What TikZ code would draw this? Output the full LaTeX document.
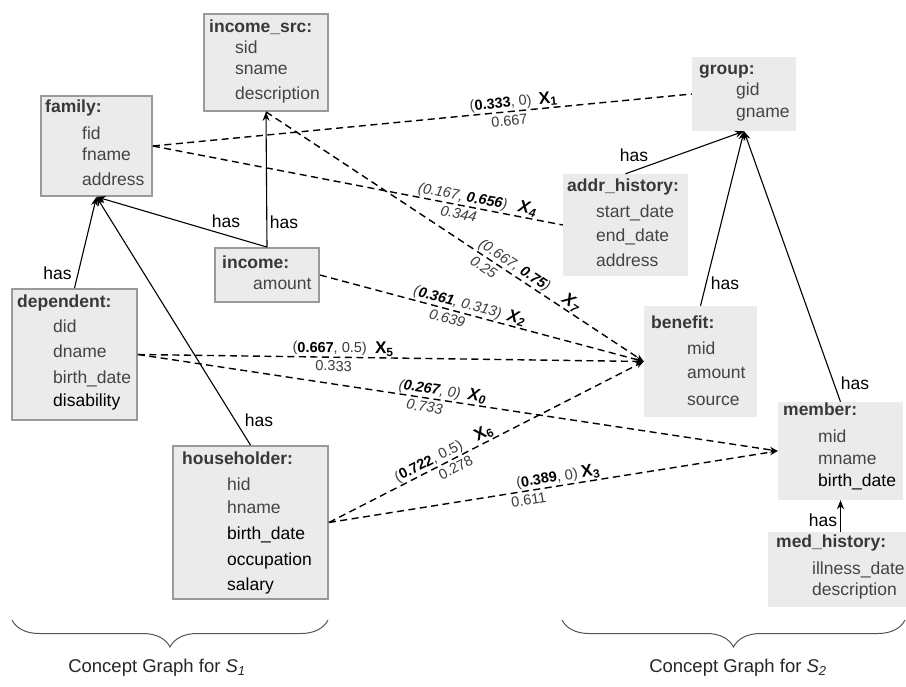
\documentclass[tikz,border=0pt]{standalone}
\usepackage{fontspec}
\setmainfont{Liberation Sans}
\usetikzlibrary{arrows.meta,decorations.pathreplacing,calc}
\definecolor{boxfill}{HTML}{EBEBEB}
\definecolor{boxline}{HTML}{9A9A9A}
\definecolor{fieldtext}{HTML}{444444}
\definecolor{titletext}{HTML}{383838}
\definecolor{labeltext}{HTML}{3A3A3A}
\definecolor{bracecol}{HTML}{555555}
\newcommand{\bn}[1]{{\color{black}\bfseries #1}}
\begin{document}
\begin{tikzpicture}[x=1pt,y=-1pt,
  s1box/.style={draw=boxline, line width=1.8pt, fill=boxfill, inner sep=0pt},
  s2box/.style={fill=boxfill, inner sep=0pt},
  ctitle/.style={anchor=mid west, inner sep=0pt, text=titletext, font=\fontsize{17.5}{20}\selectfont\bfseries},
  cfield/.style={anchor=mid west, inner sep=0pt, text=fieldtext, font=\fontsize{17.5}{20}\selectfont},
  dark/.style={text=black},
  hasline/.style={line width=1.1pt, -{Stealth[length=9pt,width=7pt]}},
  haslbl/.style={inner sep=0pt, font=\fontsize{17.5}{20}\selectfont},
  match/.style={line width=1.4pt, dash pattern=on 7pt off 4.5pt},
  matcharrow/.style={match, -{Stealth[length=8pt,width=6pt]}},
  tup/.style={sloped, inner sep=0.5pt, text=labeltext, font=\fontsize{14.5}{16}\selectfont},
  itup/.style={tup, font=\fontsize{14.5}{16}\selectfont\itshape},
  xlab/.style={sloped, inner sep=0.5pt, font=\fontsize{17}{20}\selectfont\bfseries},
  ixlab/.style={xlab, font=\fontsize{17}{20}\selectfont\bfseries\itshape},
  caption/.style={inner sep=0pt, font=\fontsize{18.5}{21}\selectfont, text=black!85},
  curly/.style={draw=bracecol, line width=1pt, decorate, decoration={brace, mirror, amplitude=27pt}},
]
\useasboundingbox (0,0) rectangle (906,687);

% ---------- concept graph S1 ----------
\node[s1box, minimum width=124pt, minimum height=97pt] (incsrc) at (266,62.5) {};
\node[ctitle] (incsrc-t) at (209,30) {income\_src:};
\node[cfield] (incsrc-f1) at (235,51) {sid};
\node[cfield] (incsrc-f2) at (235,72) {sname};
\node[cfield] (incsrc-f3) at (235,97) {description};

\node[s1box, minimum width=111pt, minimum height=100pt] (family) at (96.5,146) {};
\node[ctitle] (family-t) at (45,110) {family:};
\node[cfield] (family-f1) at (82,137) {fid};
\node[cfield] (family-f2) at (82,158) {fname};
\node[cfield] (family-f3) at (82,183) {address};

\node[s1box, minimum width=104pt, minimum height=54pt] (income) at (267,275) {};
\node[ctitle] (income-t) at (222,266) {income:};
\node[cfield] (income-f1) at (253,287) {amount};

\node[s1box, minimum width=125pt, minimum height=131pt] (dependent) at (74.5,354.5) {};
\node[ctitle] (dependent-t) at (17,305) {dependent:};
\node[cfield] (dependent-f1) at (53,330) {did};
\node[cfield] (dependent-f2) at (53,355) {dname};
\node[cfield] (dependent-f3) at (53,381) {birth\_date};
\node[cfield, dark] (dependent-f4) at (53,404) {disability};

\node[s1box, minimum width=155pt, minimum height=153pt] (holder) at (250.5,522.5) {};
\node[ctitle] (holder-t) at (182,462) {householder:};
\node[cfield] (holder-f1) at (227,488) {hid};
\node[cfield] (holder-f2) at (227,511) {hname};
\node[cfield, dark] (holder-f3) at (227,537) {birth\_date};
\node[cfield, dark] (holder-f4) at (227,563) {occupation};
\node[cfield, dark] (holder-f5) at (227,588) {salary};

% ---------- concept graph S2 ----------
\node[s2box, minimum width=104pt, minimum height=74pt] (group) at (744,94) {};
\node[ctitle] (group-t) at (699,72) {group:};
\node[cfield] (group-f1) at (736,93) {gid};
\node[cfield] (group-f2) at (736,115) {gname};

\node[s2box, minimum width=125pt, minimum height=102pt] (addr) at (625.5,225) {};
\node[ctitle] (addr-t) at (567,189) {addr\_history:};
\node[cfield] (addr-f1) at (596,215) {start\_date};
\node[cfield] (addr-f2) at (596,239) {end\_date};
\node[cfield] (addr-f3) at (596,264) {address};

\node[s2box, minimum width=113pt, minimum height=111pt] (benefit) at (700.5,361.5) {};
\node[ctitle] (benefit-t) at (651,326) {benefit:};
\node[cfield] (benefit-f1) at (687,352) {mid};
\node[cfield] (benefit-f2) at (687,376) {amount};
\node[cfield] (benefit-f3) at (687,403) {source};

\node[s2box, minimum width=125pt, minimum height=98pt] (member) at (840.5,451) {};
\node[ctitle] (member-t) at (783,413) {member:};
\node[cfield] (member-f1) at (818,440) {mid};
\node[cfield] (member-f2) at (818,462) {mname};
\node[cfield, dark] (member-f3) at (818,484) {birth\_date};

\node[s2box, minimum width=138pt, minimum height=75pt] (medhist) at (837,569.5) {};
\node[ctitle] (medhist-t) at (776,545) {med\_history:};
\node[cfield] (medhist-f1) at (812,572) {illness\_date};
\node[cfield] (medhist-f2) at (812,593) {description};

% ---------- "has" relationships ----------
\draw[hasline] (dependent.north) -- (family.south);
\draw[hasline] (holder.north) -- (family.south);
\draw[hasline] (income.north) -- (family.south);
\draw[hasline] (income.north) -- (incsrc.south);
\draw[hasline] (addr.north) -- (group.south);
\draw[hasline] (benefit.north) -- (group.south);
\draw[hasline] (member.north) -- (group.south);
\draw[hasline] (medhist.north -| member.south) -- (member.south);

\node[haslbl] (has1) at (57.5,273) {has};
\node[haslbl] (has2) at (259,420) {has};
\node[haslbl] (has3) at (226,221) {has};
\node[haslbl] (has4) at (284,222) {has};
\node[haslbl] (has5) at (634,155) {has};
\node[haslbl] (has6) at (725,283) {has};
\node[haslbl] (has7) at (855,383) {has};
\node[haslbl] (has8) at (823,520) {has};

% ---------- attribute matches ----------
\draw[match] (family.east) --
  node[tup, pos=0.647, above=0.5pt] (m1a) {(\bn{0.333}, 0)}
  node[tup, pos=0.66, below=2.5pt] (m1b) {0.667}
  node[xlab, pos=0.735, above=0.5pt] (m1x) {X\textsubscript{1}}
  (group.west);

\draw[match] (family.east) --
  node[itup, pos=0.752, above=0.5pt] (m4a) {(0.167, \bn{0.656})}
  node[itup, pos=0.75, below=2.5pt] (m4b) {0.344}
  node[ixlab, pos=0.91, above=0.5pt] (m4x) {X\textsubscript{4}}
  (addr.west);

\draw[matcharrow] (incsrc.south) --
  node[itup, pos=0.645, above=0.5pt] (m7a) {(0.667, \bn{0.75})}
  node[itup, pos=0.59, below=3pt] (m7b) {0.25}
  node[ixlab, pos=0.795, above=0.5pt] (m7x) {X\textsubscript{7}}
  (benefit.west);

\draw[matcharrow] (income.east) --
  node[itup, pos=0.418, above=0.5pt] (m2a) {(\bn{0.361}, 0.313)}
  node[itup, pos=0.40, below=2.5pt] (m2b) {0.639}
  node[ixlab, pos=0.60, above=0.5pt] (m2x) {X\textsubscript{2}}
  (benefit.west);

\draw[matcharrow] (dependent.east) --
  node[tup, pos=0.379, above=0.5pt] (m5a) {(\bn{0.667}, 0.5)}
  node[tup, pos=0.387, below=2.5pt] (m5b) {0.333}
  node[xlab, pos=0.487, above=0.5pt] (m5x) {X\textsubscript{5}}
  (benefit.west);

\draw[matcharrow] (dependent.east) --
  node[itup, pos=0.454, above=0.5pt] (m0a) {(\bn{0.267}, 0)}
  node[itup, pos=0.45, below=2.5pt] (m0b) {0.733}
  node[ixlab, pos=0.528, above=0.5pt] (m0x) {X\textsubscript{0}}
  (member.west);

\draw[matcharrow] (holder.east) --
  node[tup, pos=0.33, above=0.5pt] (m6a) {(\bn{0.722}, 0.5)}
  node[tup, pos=0.39, below=2.5pt] (m6b) {0.278}
  node[xlab, pos=0.505, above=0.5pt] (m6x) {X\textsubscript{6}}
  (benefit.west);

\draw[matcharrow] (holder.east) --
  node[tup, pos=0.489, above=0.5pt] (m3a) {(\bn{0.389}, 0)}
  node[tup, pos=0.442, below=2.5pt] (m3b) {0.611}
  node[xlab, pos=0.586, above=0.5pt] (m3x) {X\textsubscript{3}}
  (member.west);

% ---------- braces and captions ----------
\coordinate (b1l) at (12,620);
\coordinate (b1r) at (328,620);
\coordinate (b2l) at (562,620);
\coordinate (b2r) at (905,620);
\draw[curly] (b1l) -- (b1r);
\draw[curly] (b2l) -- (b2r);
\node[caption] (cap1) at (157,668) {Concept Graph for \textit{S}\textsubscript{\textit{1}}};
\node[caption] (cap2) at (738,668) {Concept Graph for \textit{S}\textsubscript{\textit{2}}};
\end{tikzpicture}
\end{document}
